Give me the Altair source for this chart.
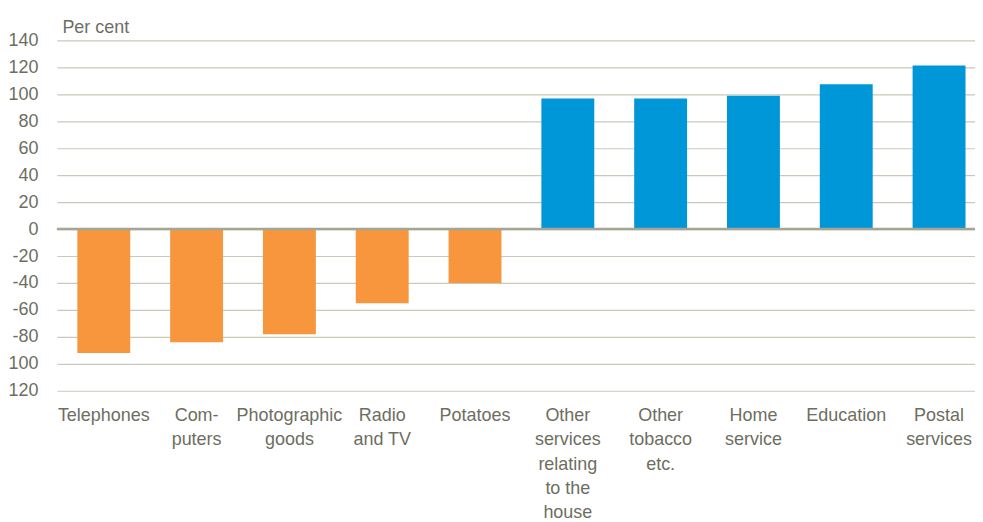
import altair as alt
import pandas as pd

categories = ["Telephones", "Com-|puters", "Photographic|goods", "Radio|and TV", "Potatoes",
              "Other|services|relating|to the|house", "Other|tobacco|etc.", "Home|service",
              "Education", "Postal|services"]
values = [-92, -84, -78, -55, -40, 97, 97, 99, 107.5, 121.5]
groups = ["down", "down", "down", "down", "down", "up", "up", "up", "up", "up"]
y_ticks = [140, 120, 100, 80, 60, 40, 20, 0, -20, -40, -60, -80, -100, -120]

df = pd.DataFrame({"cat": categories, "val": values, "grp": groups})

text_color = "#6d6e5f"
font = "Liberation Sans"

y_axis = alt.Axis(values=y_ticks, labelOverlap=False, labelBound=False,
                  labelExpr="datum.value < -80 ? '' + (-datum.value) : '' + datum.value",
                  labelFontSize=18, labelColor=text_color, labelFont=font,
                  labelPadding=19, ticks=False, domain=False,
                  grid=True, gridColor="#c9c9bb", gridWidth=1.2,
                  titleAngle=0, titleX=5, titleY=-8, titleAlign="left",
                  titleBaseline="alphabetic", titleFontSize=18,
                  titleFontWeight="normal", titleColor=text_color, titleFont=font)
y_scale = alt.Scale(domain=[-120, 140], nice=False, zero=False)

bars = alt.Chart(df).mark_bar().encode(
    x=alt.X("cat:N", sort=categories, title=None,
            scale=alt.Scale(paddingInner=0.43, paddingOuter=0.1613, align=0.683),
            axis=alt.Axis(labelExpr="split(datum.label, '|')", labelAngle=0,
                          labelFontSize=18, labelColor=text_color, labelFont=font,
                          labelLineHeight=24.3, labelBaseline="top", labelPadding=16,
                          labelOverlap=False,
                          ticks=False, domain=False, grid=False)),
    y=alt.Y("val:Q", title="Per cent", scale=y_scale, axis=y_axis),
    color=alt.Color("grp:N", scale=alt.Scale(domain=["down", "up"], range=["#F7963C", "#0097D9"]),
                    legend=None),
)

zero = alt.Chart(pd.DataFrame({"val": [0]})).mark_rule(color="#a4a594", strokeWidth=2.5).encode(
    y=alt.Y("val:Q", title="Per cent", scale=y_scale, axis=y_axis)
)

chart = (bars + zero).properties(
    width=920, height=351,
    padding={"left": 49, "top": 32, "right": 0, "bottom": 131},
    autosize=alt.AutoSizeParams(type="none"),
).configure_view(stroke=None)

chart.save("out.html", embed_options={"renderer": "svg", "actions": False})
